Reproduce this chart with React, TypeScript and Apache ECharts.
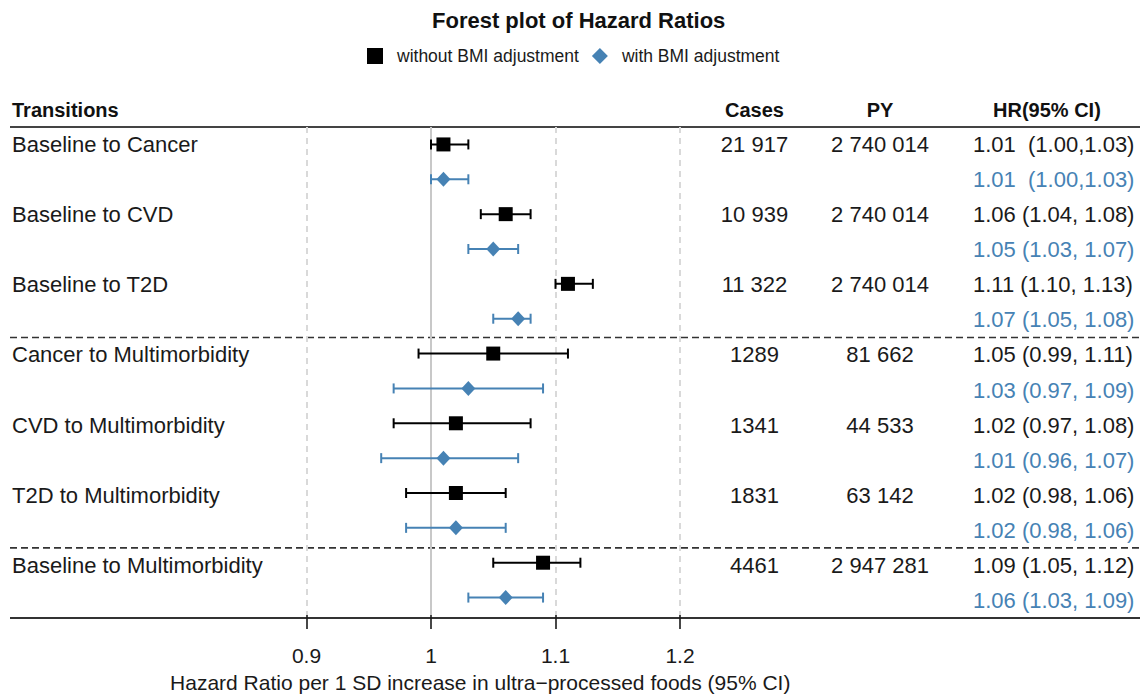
import React, { useEffect, useRef } from "react";
import * as echarts from "echarts";

// ---------- data ----------
const transitions = [
  "Baseline to Cancer",
  "Baseline to CVD",
  "Baseline to T2D",
  "Cancer to Multimorbidity",
  "CVD to Multimorbidity",
  "T2D to Multimorbidity",
  "Baseline to Multimorbidity",
];
const cases = ["21 917", "10 939", "11 322", "1289", "1341", "1831", "4461"];
const personYears = ["2 740 014", "2 740 014", "2 740 014", "81 662", "44 533", "63 142", "2 947 281"];

const hrWithout = [1.01, 1.06, 1.11, 1.05, 1.02, 1.02, 1.09];
const loWithout = [1.0, 1.04, 1.1, 0.99, 0.97, 0.98, 1.05];
const hiWithout = [1.03, 1.08, 1.13, 1.11, 1.08, 1.06, 1.12];

const hrWith = [1.01, 1.05, 1.07, 1.03, 1.01, 1.02, 1.06];
const loWith = [1.0, 1.03, 1.05, 0.97, 0.96, 0.98, 1.03];
const hiWith = [1.03, 1.07, 1.08, 1.09, 1.07, 1.06, 1.09];

const hrTextWithout = [
  "1.01  (1.00,1.03)",
  "1.06 (1.04, 1.08)",
  "1.11 (1.10, 1.13)",
  "1.05 (0.99, 1.11)",
  "1.02 (0.97, 1.08)",
  "1.02 (0.98, 1.06)",
  "1.09 (1.05, 1.12)",
];
const hrTextWith = [
  "1.01  (1.00,1.03)",
  "1.05 (1.03, 1.07)",
  "1.07 (1.05, 1.08)",
  "1.03 (0.97, 1.09)",
  "1.01 (0.96, 1.07)",
  "1.02 (0.98, 1.06)",
  "1.06 (1.03, 1.09)",
];

const legendNames = ["without BMI adjustment", "with BMI adjustment"];
const headers = ["Transitions", "Cases", "PY", "HR(95% CI)"];
const chartTitle = "Forest plot of Hazard Ratios";
const axisTitle = "Hazard Ratio per 1 SD increase in ultra\u2212processed foods (95% CI)";

// ---------- layout / style ----------
const FONT = "'Liberation Sans', Arial, Helvetica, sans-serif";
const BLACK = "#000000";
const TEXT = "#1a1a1a";
const BLUE = "#4682b4";
const TOP = 127;
const HEIGHT = 491;
const ROWS = transitions.length * 2;
const ROW_H = HEIGHT / ROWS;

type Cell = { row: number; text: string; color: string };

function App() {
  const ref = useRef<HTMLDivElement>(null);

  useEffect(() => {
    if (!ref.current) return;
    const chart = echarts.init(ref.current, undefined, { renderer: "svg" });

    const yAxisFor = (gridIndex: number) => ({
      type: "value",
      gridIndex,
      min: -0.5,
      max: ROWS - 0.5,
      inverse: true,
      show: false,
    });
    const hiddenX = (gridIndex: number) => ({
      type: "value",
      gridIndex,
      min: 0,
      max: 1,
      show: false,
    });

    const textSeries = (gridIndex: number, cells: Cell[], align: string) => ({
      type: "custom",
      xAxisIndex: gridIndex,
      yAxisIndex: gridIndex,
      silent: true,
      data: cells.map((c) => [0, c.row]),
      renderItem: (params: any, api: any) => {
        const cell = cells[params.dataIndex];
        const p = api.coord([0, api.value(1)]);
        return {
          type: "text",
          x: p[0],
          y: p[1],
          style: {
            text: cell.text,
            fill: cell.color,
            fontSize: 22,
            fontFamily: FONT,
            align,
            verticalAlign: "middle",
            textAlign: align,
            textVerticalAlign: "middle",
          },
        };
      },
    });

    const labelCells: Cell[] = transitions.map((t, g) => ({ row: 2 * g, text: t, color: TEXT }));
    const caseCells: Cell[] = cases.map((t, g) => ({ row: 2 * g, text: t, color: TEXT }));
    const pyCells: Cell[] = personYears.map((t, g) => ({ row: 2 * g, text: t, color: TEXT }));
    const hrCells: Cell[] = [
      ...hrTextWithout.map((t, g) => ({ row: 2 * g, text: t, color: TEXT })),
      ...hrTextWith.map((t, g) => ({ row: 2 * g + 1, text: t, color: BLUE })),
    ];

    const errorBars = (name: string, lo: number[], hi: number[], offset: number, color: string) => ({
      type: "custom",
      name,
      xAxisIndex: 0,
      yAxisIndex: 0,
      z: 10,
      silent: true,
      encode: { x: [0, 1], y: 2 },
      data: lo.map((l, g) => [l, hi[g], 2 * g + offset]),
      renderItem: (params: any, api: any) => {
        const a = api.coord([api.value(0), api.value(2)]);
        const b = api.coord([api.value(1), api.value(2)]);
        const h = 5;
        const style = { stroke: color, lineWidth: 2, fill: "none" };
        return {
          type: "group",
          children: [
            { type: "line", shape: { x1: a[0], y1: a[1], x2: b[0], y2: b[1] }, style },
            { type: "line", shape: { x1: a[0], y1: a[1] - h, x2: a[0], y2: a[1] + h }, style },
            { type: "line", shape: { x1: b[0], y1: b[1] - h, x2: b[0], y2: b[1] + h }, style },
          ],
        };
      },
    });

    const hLine = (y: number, dashed: boolean, color: string, width: number) => ({
      type: "line",
      silent: true,
      shape: { x1: 10, y1: y, x2: 1140, y2: y },
      style: { stroke: color, lineWidth: width, lineDash: dashed ? [7, 4] : null },
    });
    const headerText = (text: string, x: number, align: string) => ({
      type: "text",
      x,
      y: 110,
      silent: true,
      style: {
        text,
        fill: "#111111",
        font: `bold 20px ${FONT}`,
        align,
        verticalAlign: "middle",
        textAlign: align,
        textVerticalAlign: "middle",
      },
    });

    const option: any = {
      animation: false,
      backgroundColor: "#ffffff",
      textStyle: { fontFamily: FONT },
      title: {
        text: chartTitle,
        left: 432,
        top: 9,
        padding: 0,
        textStyle: { fontSize: 22, fontWeight: "bold", color: "#111111", fontFamily: FONT },
      },
      legend: {
        top: 47,
        left: 367,
        padding: 0,
        itemWidth: 16,
        itemHeight: 16,
        itemGap: 13,
        selectedMode: false,
        textStyle: { fontSize: 17.5, color: TEXT, fontFamily: FONT, padding: [0, 0, 0, 9] },
        data: [
          { name: legendNames[0], icon: "rect" },
          { name: legendNames[1], icon: "diamond" },
        ],
      },
      grid: [
        { left: 306.5, top: TOP, width: 373.5, height: HEIGHT },
        { left: 12, top: TOP, width: 10, height: HEIGHT },
        { left: 754.5, top: TOP, width: 10, height: HEIGHT },
        { left: 880, top: TOP, width: 10, height: HEIGHT },
        { left: 973, top: TOP, width: 10, height: HEIGHT },
      ],
      xAxis: [
        {
          type: "value",
          gridIndex: 0,
          position: "bottom",
          min: 0.9,
          max: 1.2,
          interval: 0.1,
          axisLine: { show: false, onZero: false },
          axisTick: { show: true, length: 14, lineStyle: { color: TEXT, width: 1.6 } },
          axisLabel: { margin: 30, fontSize: 21, color: TEXT, fontFamily: FONT },
          splitLine: { show: true, lineStyle: { color: "#d9d9d9", width: 2, type: [6, 5] } },
          name: axisTitle,
          nameLocation: "middle",
          nameGap: 57,
          nameTextStyle: { fontSize: 21, color: TEXT, fontFamily: FONT, padding: [0, 26, 0, 0] },
        },
        hiddenX(1),
        hiddenX(2),
        hiddenX(3),
        hiddenX(4),
      ],
      yAxis: [yAxisFor(0), yAxisFor(1), yAxisFor(2), yAxisFor(3), yAxisFor(4)],
      series: [
        {
          type: "line",
          name: "reference",
          xAxisIndex: 0,
          yAxisIndex: 0,
          data: [],
          z: 1,
          markLine: {
            silent: true,
            symbol: "none",
            z: 1,
            label: { show: false },
            lineStyle: { color: "#c8c8c8", width: 2, type: "solid" },
            data: [{ xAxis: 1 }],
          },
        },
        errorBars("CI without", loWithout, hiWithout, 0, BLACK),
        errorBars("CI with", loWith, hiWith, 1, BLUE),
        {
          type: "scatter",
          name: legendNames[0],
          xAxisIndex: 0,
          yAxisIndex: 0,
          symbol: "rect",
          symbolSize: 14,
          z: 11,
          itemStyle: { color: BLACK, opacity: 1 },
          data: hrWithout.map((v, g) => [v, 2 * g]),
        },
        {
          type: "scatter",
          name: legendNames[1],
          xAxisIndex: 0,
          yAxisIndex: 0,
          symbol: "diamond",
          symbolSize: [14, 15],
          z: 11,
          itemStyle: { color: BLUE, opacity: 1 },
          data: hrWith.map((v, g) => [v, 2 * g + 1]),
        },
        textSeries(1, labelCells, "left"),
        textSeries(2, caseCells, "center"),
        textSeries(3, pyCells, "center"),
        textSeries(4, hrCells, "left"),
      ],
      graphic: [
        hLine(TOP, false, "#444444", 2),
        hLine(TOP + 6 * ROW_H, true, "#333333", 1.6),
        hLine(TOP + 12 * ROW_H, true, "#333333", 1.6),
        hLine(TOP + HEIGHT, false, "#333333", 1.8),
        headerText(headers[0], 12, "left"),
        headerText(headers[1], 754.5, "center"),
        headerText(headers[2], 880, "center"),
        headerText(headers[3], 993, "left"),
      ],
    };

    chart.setOption(option);
    return () => chart.dispose();
  }, []);

  return (
    <div
      ref={ref}
      style={{ position: "absolute", left: 0, top: 0, width: 1140, height: 698, background: "#fff" }}
    />
  );
}

export default App;
